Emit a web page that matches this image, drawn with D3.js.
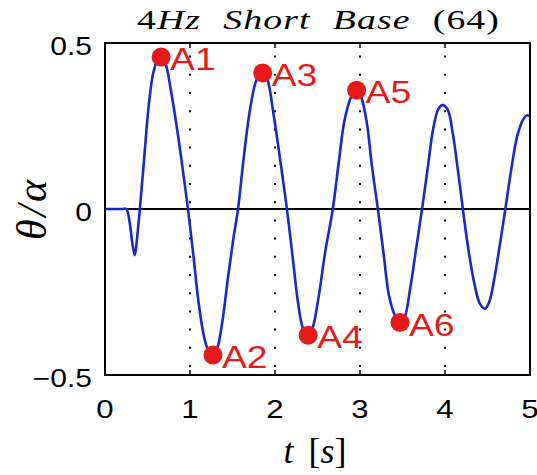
<!DOCTYPE html>
<html>
<head>
<meta charset="utf-8">
<title>4Hz Short Base (64)</title>
<script src="https://d3js.org/d3.v7.min.js"></script>
<style>
  body { margin: 0; background: #fff; }
  svg { display: block; }
</style>
</head>
<body>
<div id="chart"></div>
<script>
var timeS = [0, 0.1, 0.2, 0.25, 0.29, 0.32, 0.35, 0.38, 0.41, 0.46, 0.51, 0.56, 0.61, 0.66, 0.71, 0.78, 0.86, 0.93, 0.976,
  1.04, 1.10, 1.17, 1.23, 1.27, 1.32, 1.38, 1.45, 1.51, 1.565, 1.63, 1.70, 1.77, 1.82, 1.855, 1.91, 1.98, 2.06, 2.14,
  2.21, 2.27, 2.33, 2.39, 2.44, 2.51, 2.59, 2.68, 2.75, 2.82, 2.90, 2.96, 3.01, 3.08, 3.14, 3.21,
  3.28, 3.34, 3.41, 3.47, 3.52, 3.59, 3.66, 3.73, 3.80, 3.86, 3.92, 3.97, 4.03, 4.09, 4.15, 4.21,
  4.28, 4.35, 4.41, 4.47, 4.52, 4.58, 4.65, 4.71, 4.78, 4.85, 4.92, 4.96, 5.0];
var thetaAlpha = [0, 0, 0, 0, -0.04, -0.10, -0.139, -0.08, 0, 0.15, 0.30, 0.40, 0.445, 0.46, 0.44, 0.35, 0.22, 0.09, 0,
  -0.14, -0.28, -0.39, -0.435, -0.44, -0.42, -0.34, -0.2, -0.09, 0, 0.15, 0.29, 0.38, 0.405, 0.41, 0.39, 0.29, 0.15, 0,
  -0.15, -0.28, -0.36, -0.38, -0.36, -0.27, -0.13, 0, 0.14, 0.27, 0.34, 0.358, 0.34, 0.26, 0.13, 0,
  -0.14, -0.26, -0.32, -0.342, -0.33, -0.24, -0.12, 0, 0.13, 0.24, 0.30, 0.313, 0.30, 0.23, 0.12, 0,
  -0.13, -0.23, -0.285, -0.30, -0.28, -0.21, -0.1, 0, 0.12, 0.22, 0.27, 0.282, 0.28];

// marked extrema
var markNames = ["A1", "A2", "A3", "A4", "A5", "A6"];
var markT = [0.66, 1.27, 1.855, 2.39, 2.96, 3.47];
var markTheta = [0.458, -0.44, 0.41, -0.38, 0.358, -0.342];

var xTicks = [0, 1, 2, 3, 4, 5];
var yTicks = [0.5, 0, -0.5];
var gridT = [1, 2, 3, 4];

var W = 537, H = 475;
var margin = {left: 105, right: 7, top: 43, bottom: 100};
var stretch = 1.2; // text in the picture is a bit wide

var svg = d3.select("#chart").append("svg").attr("width", W).attr("height", H);

var x = d3.scaleLinear().domain([0, 5]).range([margin.left, W - margin.right]);
var y = d3.scaleLinear().domain([-0.5, 0.5]).range([H - margin.bottom, margin.top]);

// dotted grid
svg.selectAll("line.grid").data(gridT).enter().append("line")
  .attr("class", "grid")
  .attr("x1", function(d) { return x(d); }).attr("x2", function(d) { return x(d); })
  .attr("y1", y(-0.5)).attr("y2", y(0.5))
  .attr("stroke", "#000").attr("stroke-width", 2)
  .attr("stroke-dasharray", "2,16.2").attr("stroke-dashoffset", -8);

// ticks top and bottom (inward)
gridT.forEach(function(t) {
  svg.append("line").attr("x1", x(t)).attr("x2", x(t)).attr("y1", y(-0.5)).attr("y2", y(-0.5) - 5)
    .attr("stroke", "#000").attr("stroke-width", 1.5);
  svg.append("line").attr("x1", x(t)).attr("x2", x(t)).attr("y1", y(0.5)).attr("y2", y(0.5) + 5)
    .attr("stroke", "#000").attr("stroke-width", 1.5);
});

// zero line
svg.append("line").attr("x1", x(0)).attr("x2", x(5)).attr("y1", y(0)).attr("y2", y(0))
  .attr("stroke", "#000").attr("stroke-width", 2);

// the curve
var pts = timeS.map(function(t, i) { return [t, thetaAlpha[i]]; });
var line = d3.line().x(function(d) { return x(d[0]); }).y(function(d) { return y(d[1]); })
  .curve(d3.curveCatmullRom.alpha(0.5));
svg.append("path").datum(pts).attr("d", line)
  .attr("fill", "none").attr("stroke", "#1a28c8").attr("stroke-width", 2.6)
  .attr("stroke-linejoin", "round");

// box
svg.append("rect").attr("x", x(0)).attr("y", y(0.5))
  .attr("width", x(5) - x(0)).attr("height", y(-0.5) - y(0.5))
  .attr("fill", "none").attr("stroke", "#000").attr("stroke-width", 2);

// markers + labels
var red = "#e51b1b";
markNames.forEach(function(name, i) {
  var cx = x(markT[i]), cy = y(markTheta[i]);
  svg.append("circle").attr("cx", cx).attr("cy", cy).attr("r", 9.5).attr("fill", red);
  svg.append("text")
    .attr("transform", "translate(" + (cx + 9) + "," + (cy + 13) + ") scale(" + stretch + ",1)")
    .attr("font-family", "Liberation Sans, Arial, sans-serif").attr("font-size", 31)
    .attr("fill", red).text(name);
});

// tick labels
var sans = "Liberation Sans, Arial, sans-serif";
xTicks.forEach(function(t) {
  svg.append("text")
    .attr("transform", "translate(" + x(t) + "," + (y(-0.5) + 43) + ") scale(" + stretch + ",1)")
    .attr("text-anchor", "middle").attr("font-family", sans).attr("font-size", 26)
    .text(d3.format("d")(t));
});
yTicks.forEach(function(v) {
  svg.append("text")
    .attr("transform", "translate(" + (margin.left - 13) + "," + (y(v) + 12) + ") scale(" + stretch + ",1)")
    .attr("text-anchor", "end").attr("font-family", sans).attr("font-size", 25)
    .text(v < 0 ? "\u2212" + Math.abs(v) : String(v));
});

// title: upright digits, italic words, wide word gaps like the LaTeX original
var serif = "Liberation Serif, DejaVu Serif, serif";
var titleStretch = 1.35, titleLeft = 137, titleWidth = 363;
var title = svg.append("text")
  .attr("transform", "translate(" + titleLeft + ",29) scale(" + titleStretch + ",1)")
  .attr("font-family", serif).attr("font-size", 28).attr("letter-spacing", 0.8);
title.append("tspan").text("4");
title.append("tspan").attr("font-style", "italic").text("Hz Short Base ");
title.append("tspan").text("(64)");
var natural = title.node().getComputedTextLength();
var gap = Math.max(0, (titleWidth / titleStretch - natural) / 3);
title.attr("word-spacing", gap);

// x label
var xl = svg.append("text")
  .attr("x", 315).attr("y", 463).attr("text-anchor", "middle")
  .attr("font-family", serif).attr("font-size", 36).attr("word-spacing", 6);
xl.append("tspan").attr("font-style", "italic").text("t");
xl.append("tspan").text(" [");
xl.append("tspan").attr("font-style", "italic").text("s");
xl.append("tspan").text("]");

// y label
svg.append("text")
  .attr("transform", "translate(46,210) rotate(-90)")
  .attr("text-anchor", "middle")
  .attr("font-family", serif).attr("font-style", "italic").attr("font-size", 42)
  .attr("textLength", 60).attr("lengthAdjust", "spacing")
  .text("\u03b8/\u03b1");
</script>
</body>
</html>
